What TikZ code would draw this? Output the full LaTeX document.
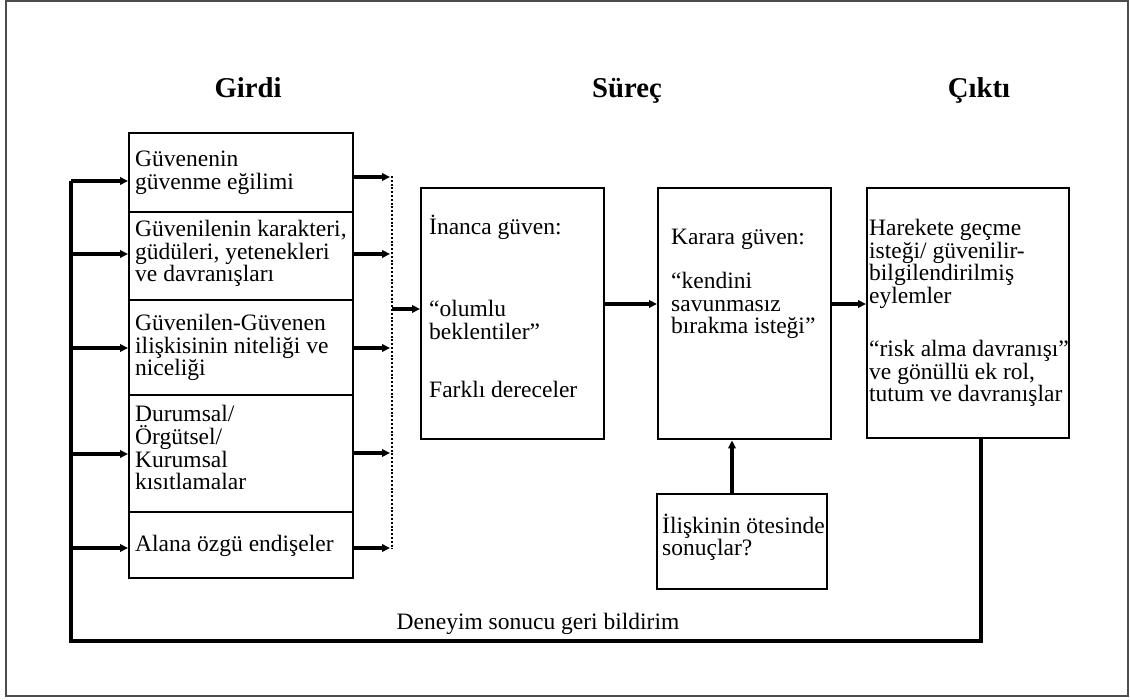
\documentclass[tikz,border=0pt]{standalone}
\usepackage{fontspec}
\setmainfont{Liberation Serif}
\usetikzlibrary{arrows.meta}
% left-aligned block of lines whose base is the first line's baseline
\newcommand\blocktext[1]{\parbox[t]{260pt}{\raggedright\lineskiplimit=-100pt #1}}

\begin{document}
\begin{tikzpicture}[x=1pt,y=-1pt,
  body/.style={font=\fontsize{23.5}{22.5}\selectfont, inner sep=0pt, anchor=base west},
  heading/.style={font=\fontsize{28.7}{30}\selectfont\bfseries, inner sep=0pt, anchor=base},
  panel/.style={draw, line width=2.4pt, inner sep=0pt, anchor=north west},
  flow/.style={line width=3.2pt, -{Triangle[length=8pt,width=7.5pt]}},
  feedback/.style={line width=4pt, line join=miter},
  gather/.style={line width=1.4pt, dash pattern=on 2pt off 1.8pt}
]
\useasboundingbox (0,0) rectangle (1130,700);
\fill[white] (0,0) rectangle (1130,700);
\draw[line width=1.6pt, black!70] (6,1) rectangle (1128,696);

% column headings
\node[heading] (hIn)  at (248,98) {Girdi};
\node[heading] (hPr)  at (627,98) {Süreç};
\node[heading] (hOut) at (979,98) {Çıktı};

% input boxes
\node[panel, minimum width=224pt, minimum height=79pt]  (b1) at (128,132) {};
\node[panel, minimum width=224pt, minimum height=88pt]  (b2) at (128,211) {};
\node[panel, minimum width=224pt, minimum height=95pt]  (b3) at (128,299) {};
\node[panel, minimum width=224pt, minimum height=117pt] (b4) at (128,394) {};
\node[panel, minimum width=224pt, minimum height=66pt]  (b5) at (128,511) {};

\node[body] (t1) at (135,167) {\blocktext{Güvenenin\\güvenme eğilimi}};
\node[body] (t2) at (135,237) {\blocktext{Güvenilenin karakteri,\\güdüleri, yetenekleri\\ve davranışları}};
\node[body] (t3) at (135,331) {\blocktext{Güvenilen-Güvenen\\ilişkisinin niteliği ve\\niceliği}};
\node[body] (t4) at (135,422) {\blocktext{Durumsal/\\Örgütsel/\\Kurumsal\\kısıtlamalar}};
\node[body] (t5) at (135,551) {\blocktext{Alana özgü endişeler}};

% process and output boxes
\node[panel, minimum width=183pt, minimum height=251pt] (inan) at (420,187) {};
\node[panel, minimum width=173pt, minimum height=251pt] (kar)  at (657,187) {};
\node[panel, minimum width=202pt, minimum height=250pt] (har)  at (866,187) {};
\node[panel, minimum width=170pt, minimum height=95pt]  (ilis) at (656,493) {};

\node[body] (tInan) at (429,235) {\blocktext{İnanca güven:\\[59.5pt]“olumlu\\beklentiler”\\[36pt]Farklı dereceler}};
\node[body] (tKar) at (671,245) {\blocktext{Karara güven:\\[21.5pt]“kendini\\savunmasız\\bırakma isteği”}};
\node[body] (tHar) at (869,236) {\blocktext{Harekete geçme\\isteği/ güvenilir-\\bilgilendirilmiş\\eylemler\\[31pt]“risk alma davranışı”\\ve gönüllü ek rol,\\tutum ve davranışlar}};
\node[body] (tIlis) at (662,533) {\blocktext{İlişkinin ötesinde\\sonuçlar?}};

% inputs gathered on the dotted collector
\coordinate (dTop) at (392,176);
\coordinate (dBot) at (392,549);
\draw[gather] (dTop) -- (dBot);
\foreach \n/\yy in {b1/177, b2/254, b3/348, b4/453, b5/548} {
  \coordinate (o-\n) at (390,\yy);
  \draw[flow] (o-\n -| \n.east) -- (o-\n);
}

\coordinate (dMid) at (392,309);
\draw[flow] (dMid) -- (dMid -| inan.west);
\coordinate (pRow) at (0,304);
\draw[flow] (inan.east |- pRow) -- (kar.west |- pRow);
\draw[flow] (kar.east |- pRow) -- (har.west |- pRow);
\coordinate (upX) at (732,0);
\draw[flow, line width=4pt] (ilis.north -| upX) -- (kar.south -| upX);

% feedback loop
\coordinate (fbR) at (981,641);
\coordinate (fbL) at (71,641);
\coordinate (fbT) at (71,181);
\draw[feedback] (har.south -| fbR) -- (fbR) -- (fbL) -- (fbT);
\foreach \n/\yy in {b1/181, b2/254, b3/348, b4/454, b5/548} {
  \coordinate (i-\n) at (71,\yy);
  \draw[flow] (i-\n) -- (i-\n -| \n.west);
}
\node[body, anchor=base] (fbText) at (538,629) {Deneyim sonucu geri bildirim};
\end{tikzpicture}
\end{document}
